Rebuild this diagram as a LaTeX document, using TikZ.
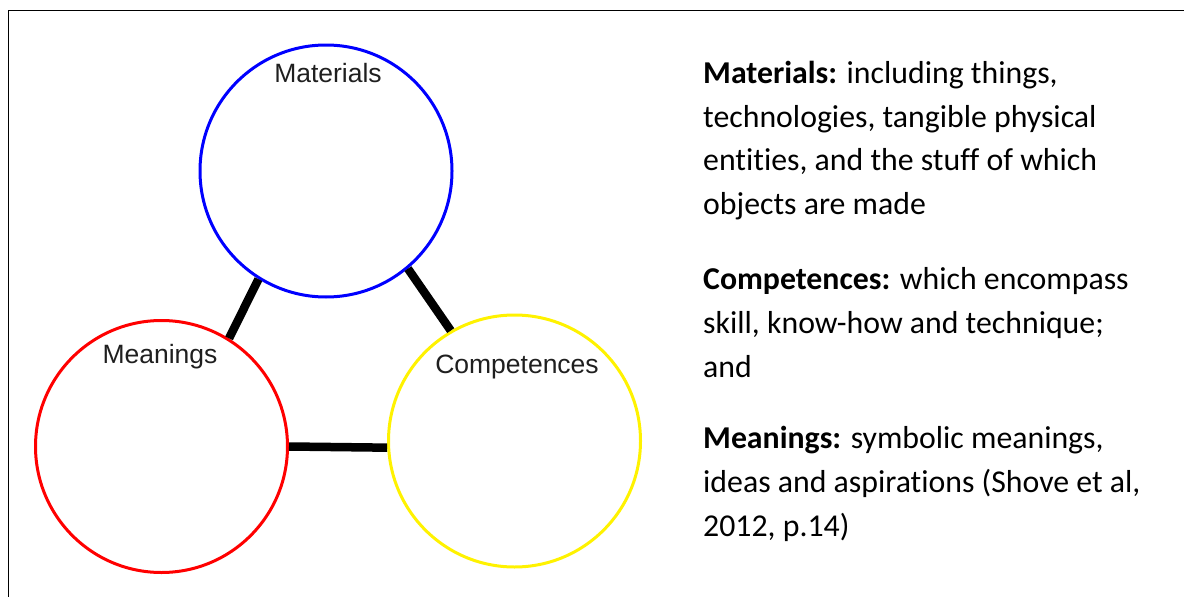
\documentclass[tikz,border=0pt]{standalone}
\usepackage{fontspec}
\setmainfont{Carlito}[RawFeature=-liga]
\newfontfamily\labelfont{Liberation Sans}
\begin{document}
\begin{tikzpicture}[x=1pt,y=-1pt,
  ring/.style={circle,draw,line width=3pt,minimum size=252pt,inner sep=0pt},
  tie/.style={line width=8.5pt},
  ringlabel/.style={font=\labelfont\fontsize{26.5}{32}\selectfont,inner sep=0pt,anchor=base,text=black!88},
  note/.style={font=\fontsize{31.8}{38}\selectfont,inner sep=0pt,anchor=base west}]
\useasboundingbox (0,0) rectangle (1184,597);
% frame
\draw[line width=1.8pt] (8.5,597) -- (8.5,10.5) -- (1184,10.5);

% the three elements
\node[ring,draw=blue]   (mat)  at (326,171)     {};
\node[ring,draw=red]    (mean) at (161.5,446.5) {};
\node[ring,draw=yellow] (comp) at (514.5,441)   {};

% links between the elements
\draw[tie] (mat.-122) -- (mean.58);
\draw[tie] (mat.-50)  -- (comp.120);
\draw[tie] (mean.0)   -- (comp.183);

% element names
\node[ringlabel] (matlbl)  at (328,82)  {Materials};
\node[ringlabel] (meanlbl) at (160,363) {Meanings};
\node[ringlabel] (complbl) at (517,373) {Competences};

% definitions
\node[note] (m1) at (703,83.5)  {\textbf{Materials:} including things,};
\node[note] (m2) at (703,127)   {technologies, tangible physical};
\node[note] (m3) at (703,170.5) {entities, and the stuff of which};
\node[note] (m4) at (703,214)   {objects are made};
\node[note] (c1) at (703,289.5) {\textbf{Competences:} which encompass};
\node[note] (c2) at (703,333.5) {skill, know-how and technique;};
\node[note] (c3) at (703,377.5) {and};
\node[note] (s1) at (703,448.5) {\textbf{Meanings:} symbolic meanings,};
\node[note] (s2) at (703,492.5) {ideas and aspirations (Shove et al,};
\node[note] (s3) at (703,536.5) {2012, p.14)};
\end{tikzpicture}
\end{document}
